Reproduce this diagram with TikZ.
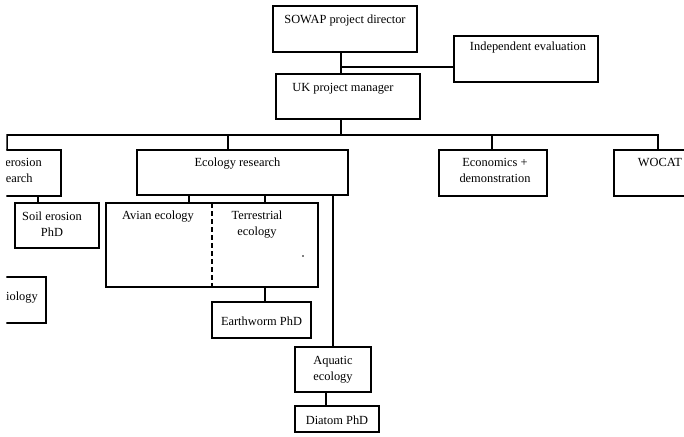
\documentclass[tikz,border=0pt]{standalone}
\usepackage{fontspec}
\setmainfont{Liberation Serif}
\usetikzlibrary{positioning}

\tikzset{
  unitbox/.style={draw, line width=1.2pt, inner sep=0pt, outer sep=0pt, anchor=north west},
  txt/.style={inner sep=0pt, align=center, font=\fontsize{12.4}{16}\selectfont},
  link/.style={line width=1.2pt}
}

\begin{document}
\begin{tikzpicture}[x=1pt, y=-1pt]
    \useasboundingbox (0,0) rectangle (684,436);
    \clip (6.4,0) rectangle (684,436);

    % Top of the chart
    \node[unitbox, minimum width=144pt, minimum height=46pt] (dir) at (273,6) {};
    \node[txt, below=9pt of dir.north] (dir-t) {SOWAP project director};
    \node[unitbox, minimum width=144pt, minimum height=46pt] (eval) at (454,36) {};
    \node[txt, below=6pt of eval.north, xshift=2pt] (eval-t) {Independent evaluation};
    \node[unitbox, minimum width=144pt, minimum height=45pt] (mgr) at (276,74) {};
    \node[txt, below=9pt of mgr.north, xshift=-5pt] (mgr-t) {UK project manager};

    % Research units
    \node[unitbox, minimum width=98pt, minimum height=46pt] (ero) at (-37,150) {};
    \node[txt, below=8pt of ero.north] (ero-t) {Soil erosion\\research};
    \node[unitbox, minimum width=211pt, minimum height=45pt] (eco) at (137,150) {};
    \node[txt, below=8pt of eco.north, xshift=-5pt] (eco-t) {Ecology research};
    \node[unitbox, minimum width=108pt, minimum height=46pt] (econ) at (439,150) {};
    \node[txt, below=8pt of econ.north, xshift=2pt] (econ-t) {Economics +\\demonstration};
    \node[unitbox, minimum width=92pt, minimum height=46pt] (woc) at (614,150) {};
    \node[txt, below=8pt of woc.north] (woc-t) {WOCAT};

    % Sub-units
    \node[unitbox, minimum width=84pt, minimum height=45pt] (sphd) at (15,203) {};
    \node[txt, below=9pt of sphd.north, xshift=-5pt] (sphd-t) {Soil erosion\\PhD};
    \node[unitbox, minimum width=212pt, minimum height=84pt] (eclg) at (106,203) {};
    \coordinate (div) at (212,203);
    \node[txt, anchor=north] (avian) at (158,211) {Avian ecology};
    \node[txt, anchor=north] (terr) at (257,211) {Terrestrial\\ecology};
    \node[unitbox, minimum width=99pt, minimum height=36pt] (worm) at (212,302) {};
    \node[txt, below=15pt of worm.north] (worm-t) {Earthworm PhD};
    \node[unitbox, minimum width=76pt, minimum height=45pt] (aqua) at (295,347) {};
    \node[txt, below=9pt of aqua.north] (aqua-t) {Aquatic\\ecology};
    \node[unitbox, minimum width=84pt, minimum height=26pt] (diat) at (295,406) {};
    \node[txt, below=10pt of diat.north] (diat-t) {Diatom PhD};
    \node[unitbox, minimum width=90pt, minimum height=46pt] (bio) at (-44,277) {};
    \node[txt, anchor=north east] (bio-t) at (38,292) {biology};

    % Director, evaluation and manager
    \coordinate (spine) at (341,67);
    \coordinate (bus) at (341,135);
    \draw[link] (spine |- dir.south) -- (spine |- mgr.north);
    \draw[link] (spine) -- (spine -| eval.west);
    \draw[link] (spine |- mgr.south) -- (bus);

    % Bus to the research units
    \coordinate (b1) at (7,135);
    \coordinate (b2) at (228,135);
    \coordinate (b3) at (492,135);
    \coordinate (b4) at (658,135);
    \draw[link] (b1 |- ero.north) -- (b1) -- (b4) -- (b4 |- woc.north);
    \draw[link] (b2) -- (b2 |- eco.north);
    \draw[link] (b3) -- (b3 |- econ.north);

    % Ecology branch
    \coordinate (avx) at (189,0);
    \coordinate (terx) at (265,0);
    \coordinate (aqx) at (333,0);
    \coordinate (dix) at (326,0);
    \coordinate (sex) at (38,0);
    \draw[link] (eco.south -| avx) -- (eclg.north -| avx);
    \draw[link] (eco.south -| terx) -- (eclg.north -| terx);
    \draw[link] (eclg.south -| terx) -- (worm.north -| terx);
    \draw[link] (eco.south -| aqx) -- (aqua.north -| aqx);
    \draw[link] (aqua.south -| dix) -- (diat.north -| dix);
    \draw[link] (ero.south -| sex) -- (sphd.north -| sex);
    \draw[link, dash pattern=on 5pt off 3pt] (div) -- (div |- eclg.south);

    % stray dot
    \fill (303,256) circle (0.8pt);

\end{tikzpicture}
\end{document}
